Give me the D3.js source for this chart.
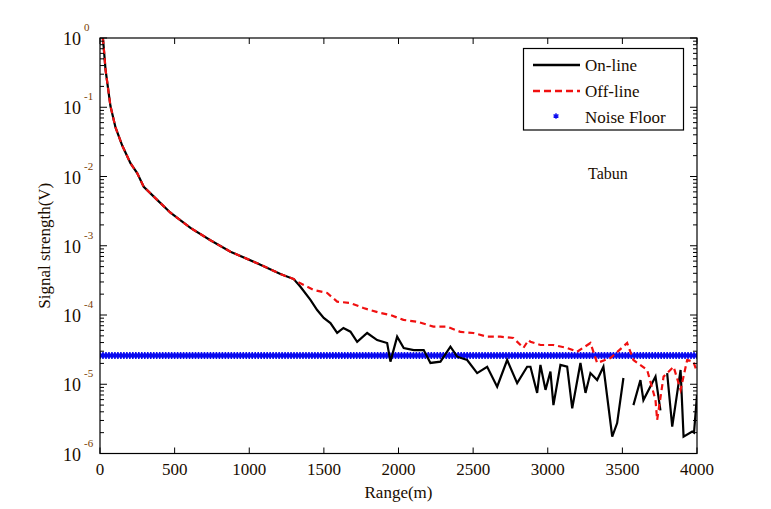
<!DOCTYPE html>
<html>
<head>
<meta charset="utf-8">
<script src="https://cdn.jsdelivr.net/npm/d3@7"></script>
<style>
  body { margin: 0; background: #fff; }
  svg text { font-family: 'Liberation Serif', 'Times New Roman', 'DejaVu Serif', serif; fill: #1a0d00; }
</style>
</head>
<body>
<script>
// range (m), signal (V)
var nearField = [[18, 1.0], [21, 0.93], [37, 0.35], [70, 0.104], [104, 0.051], [149, 0.028],
  [204, 0.0156], [249, 0.0112], [293, 0.0071], [383, 0.0046], [472, 0.0030], [606, 0.00181],
  [740, 0.0012], [874, 0.00082], [1053, 0.00056], [1209, 0.00039], [1298, 0.00033]];

var onLineTail = [[1343, 2.56e-4], [1410, 1.65e-4], [1455, 1.18e-4], [1499, 9.05e-5], [1544, 7.66e-5],
  [1589, 5.5e-5], [1631, 6.5e-5], [1678, 5.74e-5], [1723, 4.11e-5], [1790, 5.5e-5], [1857, 4.35e-5],
  [1924, 3.94e-5], [1946, 2.12e-5], [1991, 4.86e-5], [2035, 3.34e-5], [2102, 3.12e-5], [2169, 3.12e-5],
  [2214, 2.03e-5], [2281, 2.12e-5], [2348, 3.48e-5], [2393, 2.5e-5], [2460, 2.24e-5], [2527, 1.45e-5],
  [2594, 1.79e-5], [2661, 9.2e-6], [2728, 2.24e-5], [2795, 1.04e-5], [2862, 1.79e-5], [2884, 1.79e-5],
  [2929, 7.5e-6], [2951, 1.9e-5], [2985, 8.3e-6], [3018, 1.52e-5], [3038, 5.0e-6], [3085, 1.9e-5],
  [3130, 1.79e-5], [3164, 4.5e-6], [3219, 2.03e-5], [3253, 7.5e-6], [3286, 1.45e-5], [3331, 1.15e-5],
  [3373, 1.79e-5], [3432, 1.75e-6], [3465, 2.75e-6], [3507, 1.23e-5], [3540, null], [3574, 5.0e-6],
  [3621, 1.15e-5], [3641, 5.9e-6], [3722, 1.29e-5], [3755, 4.2e-6], [3780, null], [3800, 1.45e-5],
  [3834, 2.44e-6], [3890, 1.61e-5], [3910, 1.75e-6], [3968, 2.07e-6], [3980, 2.0e-6], [4000, 7.0e-6]];

var offLineTail = [[1321, 3.03e-4], [1432, 2.3e-4], [1522, 2.08e-4], [1589, 1.56e-4], [1678, 1.49e-4],
  [1765, 1.26e-4], [1879, 1.07e-4], [1946, 1.0e-4], [2033, 8.5e-5], [2125, 8.0e-5], [2234, 6.8e-5],
  [2326, 6.8e-5], [2415, 5.7e-5], [2502, 5.5e-5], [2594, 4.86e-5], [2683, 4.86e-5], [2770, 4.65e-5],
  [2837, 3.34e-5], [2871, 4.35e-5], [2884, 4.11e-5], [2951, 3.69e-5], [3038, 3.69e-5], [3130, 3.34e-5],
  [3197, 2.95e-5], [3286, 3.94e-5], [3331, 2.03e-5], [3420, 2.39e-5], [3532, 3.94e-5], [3574, 2.24e-5],
  [3666, 1.61e-5], [3722, 5.9e-6], [3733, 3.05e-6], [3776, 1.29e-5], [3843, 1.79e-5], [3890, 8.3e-6],
  [3934, 2.24e-5], [3976, 2.12e-5], [4000, 1.5e-5]];

var noiseFloor = 2.6e-5;
var xTicks = [0, 500, 1000, 1500, 2000, 2500, 3000, 3500, 4000];
var yExponents = [0, -1, -2, -3, -4, -5, -6];

var margin = {top: 38, right: 74, bottom: 55.5, left: 100},
    width = 771 - margin.left - margin.right,
    height = 509 - margin.top - margin.bottom;

var svg = d3.select('body').append('svg')
    .attr('width', 771)
    .attr('height', 509)
    .attr('font-family', "'Liberation Serif', 'Times New Roman', serif");

var g = svg.append('g')
    .attr('transform', 'translate(' + margin.left + ',' + margin.top + ')');

var x = d3.scaleLinear().domain([0, 4000]).range([0, width]);
var y = d3.scaleLog().domain([1e-6, 1]).range([height, 0]);

g.append('clipPath').attr('id', 'plot-clip')
  .append('rect').attr('width', width).attr('height', height);

// noise floor markers
var noiseRange = d3.range(0, 4001, 20);
var asterisk = d3.symbol().type(d3.symbolAsterisk).size(34);
g.append('g')
  .attr('clip-path', 'url(#plot-clip)')
  .selectAll('path')
  .data(noiseRange)
  .enter()
  .append('path')
  .attr('d', asterisk)
  .attr('transform', function(d) { return 'translate(' + x(d) + ',' + y(noiseFloor) + ')'; })
  .attr('fill', 'none')
  .attr('stroke', '#0a0af0')
  .attr('stroke-width', 1.6);

var line = d3.line()
  .defined(function(d) { return d[1] != null; })
  .x(function(d) { return x(d[0]); })
  .y(function(d) { return y(d[1]); });

var curves = g.append('g').attr('clip-path', 'url(#plot-clip)');

curves.append('path')
  .datum(nearField.concat(onLineTail))
  .attr('d', line)
  .attr('fill', 'none')
  .attr('stroke', '#000')
  .attr('stroke-width', 2.2);

curves.append('path')
  .datum(nearField.concat(offLineTail))
  .attr('d', line)
  .attr('fill', 'none')
  .attr('stroke', '#f01010')
  .attr('stroke-width', 2.2)
  .attr('stroke-dasharray', '6,4');

// frame
g.append('rect')
  .attr('width', width)
  .attr('height', height)
  .attr('fill', 'none')
  .attr('stroke', '#000')
  .attr('stroke-width', 1.2);

// x ticks (inward, bottom and top)
xTicks.forEach(function(t) {
  g.append('line').attr('x1', x(t)).attr('x2', x(t)).attr('y1', height).attr('y2', height - 6)
    .attr('stroke', '#000');
  g.append('line').attr('x1', x(t)).attr('x2', x(t)).attr('y1', 0).attr('y2', 6)
    .attr('stroke', '#000');
  g.append('text')
    .attr('x', x(t))
    .attr('y', height + 21)
    .attr('text-anchor', 'middle')
    .style('font-size', '17px')
    .text(t);
});

// y ticks (log, major + minor on both sides)
yExponents.forEach(function(e) {
  var v = Math.pow(10, e);
  [0, width].forEach(function(side) {
    var dir = side == 0 ? 1 : -1;
    g.append('line').attr('x1', side).attr('x2', side + dir * 7).attr('y1', y(v)).attr('y2', y(v))
      .attr('stroke', '#000');
    if (e > -6) {
      for (var k = 2; k <= 9; k++) {
        var m = k * Math.pow(10, e - 1);
        g.append('line').attr('x1', side).attr('x2', side + dir * 4).attr('y1', y(m)).attr('y2', y(m))
          .attr('stroke', '#000');
      }
    }
  });
  var label = g.append('text')
    .attr('x', -37)
    .attr('y', y(v) + 7)
    .style('font-size', '18px');
  label.append('tspan').text('10');
  label.append('tspan')
    .attr('dx', 3)
    .attr('dy', -14)
    .style('font-size', '11px')
    .style('fill', '#7a3c00')
    .text(e);
});

// axis titles
svg.append('text')
  .attr('x', margin.left + width / 2)
  .attr('y', 498)
  .attr('text-anchor', 'middle')
  .style('font-size', '17px')
  .text('Range(m)');

svg.append('text')
  .attr('transform', 'translate(50,' + (margin.top + height / 2) + ') rotate(-90)')
  .attr('text-anchor', 'middle')
  .style('font-size', '17px')
  .text('Signal strength(V)');

svg.append('text')
  .attr('x', 588)
  .attr('y', 179)
  .style('font-size', '16px')
  .text('Tabun');

// legend
var legend = svg.append('g').attr('id', 'legend');

legend.append('rect')
  .attr('x', 523.5)
  .attr('y', 48.5)
  .attr('width', 160)
  .attr('height', 81.5)
  .attr('fill', '#fff')
  .attr('stroke', '#000')
  .attr('stroke-width', 1.2);

legend.append('line')
  .attr('x1', 533).attr('x2', 580).attr('y1', 65).attr('y2', 65)
  .attr('stroke', '#000').attr('stroke-width', 2.5);

legend.append('line')
  .attr('x1', 533).attr('x2', 580).attr('y1', 91).attr('y2', 91)
  .attr('stroke', '#f01010').attr('stroke-width', 2.5).attr('stroke-dasharray', '7,4');

legend.append('path')
  .attr('d', d3.symbol().type(d3.symbolAsterisk).size(22))
  .attr('transform', 'translate(556,116)')
  .attr('fill', 'none')
  .attr('stroke', '#0a0af0')
  .attr('stroke-width', 1.4);

var legendLabels = ['On-line', 'Off-line', 'Noise Floor'];
legend.selectAll('.label')
  .data(legendLabels)
  .enter()
  .append('text')
  .attr('class', 'label')
  .attr('x', 585)
  .attr('y', function(d, i) { return 71 + i * 26; })
  .style('font-size', '17px')
  .text(function(d) { return d; });
</script>
</body>
</html>
